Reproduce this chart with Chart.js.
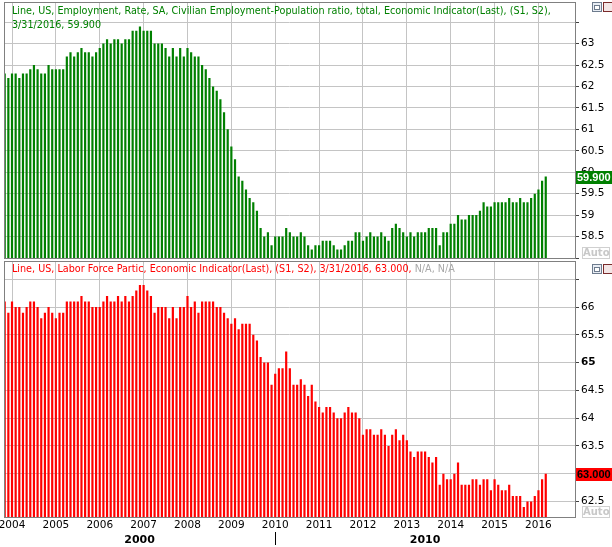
<!DOCTYPE html>
<html>
<head>
<meta charset="utf-8">
<script src="https://cdn.jsdelivr.net/npm/chart.js@4.4.1/dist/chart.umd.min.js"></script>
<style>
  body { margin: 0; background: #fff; width: 612px; height: 547px; overflow: hidden; position: relative; }
  #topWrap { position: absolute; left: 0; top: 0; width: 612px; height: 260px; }
  #botWrap { position: absolute; left: 0; top: 260px; width: 612px; height: 287px; }
  .ttl { position: absolute; left: 12px; font-family: "DejaVu Sans Condensed", "DejaVu Sans", sans-serif; font-size: 10.7px; line-height: 14px; white-space: nowrap; }
  .green { color: #008000; }
  .red { color: #ff0000; }
  .na { color: #a8a8a8; }
  .auto { position: absolute; left: 582px; width: 26px; height: 10px; border: 1px solid #d0d0d0; color: #c8c8c8;
          font: bold 10px "DejaVu Sans", sans-serif; line-height: 10px; text-align: center; background: #fff; }
  .ico1 { position: absolute; left: 592px; width: 8px; height: 8px; border: 1px solid #6d7b8d; background: #e8edf4; }
  .ico1 i { position: absolute; left: 1px; top: 2px; width: 4px; height: 3px; border: 1px solid #6d7b8d; background: #fff; }
  .ico2 { position: absolute; left: 603px; width: 10px; height: 8px; border: 1px solid #7a2b2b; background: #f3e6e6; }
</style>
</head>
<body>
<div id="topWrap"><canvas id="chartTop"></canvas></div>
<div id="botWrap"><canvas id="chartBot"></canvas></div>

<div class="ttl green" style="top:4px">Line, US, Employment, Rate, SA, Civilian Employment-Population ratio, total, Economic Indicator(Last), (S1, S2),</div>
<div class="ttl green" style="top:18px">3/31/2016, 59.900</div>
<div class="ttl" style="top:262px"><span class="red">Line, US, Labor Force Partic, Economic Indicator(Last), (S1, S2), 3/31/2016, 63.000, </span><span class="na">N/A, N/A</span></div>

<div class="ico1" style="top:2px"><i></i></div><div class="ico2" style="top:2px"></div>
<div class="ico1" style="top:264px"><i></i></div><div class="ico2" style="top:264px"></div>
<div class="auto" style="top:247px">Auto</div>
<div class="auto" style="top:506px">Auto</div>

<script>
// monthly series, Nov 2003 .. Mar 2016
var startYear = 2003, startMonth = 11;
var empRate = [
  62.3, 62.2,
  62.3, 62.3, 62.2, 62.3, 62.3, 62.4, 62.5, 62.4, 62.3, 62.3, 62.5, 62.4,
  62.4, 62.4, 62.4, 62.7, 62.8, 62.7, 62.8, 62.9, 62.8, 62.8, 62.7, 62.8,
  62.9, 63.0, 63.1, 63.0, 63.1, 63.1, 63.0, 63.1, 63.1, 63.3, 63.3, 63.4,
  63.3, 63.3, 63.3, 63.0, 63.0, 63.0, 62.9, 62.7, 62.9, 62.7, 62.9, 62.7,
  62.9, 62.8, 62.7, 62.7, 62.5, 62.4, 62.2, 62.0, 61.9, 61.7, 61.4, 61.0,
  60.6, 60.3, 59.9, 59.8, 59.6, 59.4, 59.3, 59.1, 58.7, 58.5, 58.6, 58.3,
  58.5, 58.5, 58.5, 58.7, 58.6, 58.5, 58.5, 58.6, 58.5, 58.3, 58.2, 58.3,
  58.3, 58.4, 58.4, 58.4, 58.3, 58.2, 58.2, 58.3, 58.4, 58.4, 58.6, 58.6,
  58.4, 58.5, 58.6, 58.5, 58.5, 58.6, 58.5, 58.4, 58.7, 58.8, 58.7, 58.6,
  58.5, 58.6, 58.5, 58.6, 58.6, 58.6, 58.7, 58.7, 58.7, 58.3, 58.6, 58.6,
  58.8, 58.8, 59.0, 58.9, 58.9, 59.0, 59.0, 59.0, 59.1, 59.3, 59.2, 59.2,
  59.3, 59.3, 59.3, 59.3, 59.4, 59.3, 59.3, 59.4, 59.3, 59.3, 59.4, 59.5,
  59.6, 59.8, 59.9
];
var partRate = [
  66.1, 65.9,
  66.1, 66.0, 66.0, 65.9, 66.0, 66.1, 66.1, 66.0, 65.8, 65.9, 66.0, 65.9,
  65.8, 65.9, 65.9, 66.1, 66.1, 66.1, 66.1, 66.2, 66.1, 66.1, 66.0, 66.0,
  66.0, 66.1, 66.2, 66.1, 66.1, 66.2, 66.1, 66.2, 66.1, 66.2, 66.3, 66.4,
  66.4, 66.3, 66.2, 65.9, 66.0, 66.0, 66.0, 65.8, 66.0, 65.8, 66.0, 66.0,
  66.2, 66.0, 66.1, 65.9, 66.1, 66.1, 66.1, 66.1, 66.0, 66.0, 65.9, 65.8,
  65.7, 65.8, 65.6, 65.7, 65.7, 65.7, 65.5, 65.4, 65.1, 65.0, 65.0, 64.6,
  64.8, 64.9, 64.9, 65.2, 64.9, 64.6, 64.6, 64.7, 64.6, 64.4, 64.6, 64.3,
  64.2, 64.1, 64.2, 64.2, 64.1, 64.0, 64.0, 64.1, 64.2, 64.1, 64.1, 64.0,
  63.7, 63.8, 63.8, 63.7, 63.7, 63.8, 63.7, 63.5, 63.7, 63.8, 63.6, 63.7,
  63.6, 63.4, 63.3, 63.4, 63.4, 63.4, 63.3, 63.2, 63.3, 62.8, 63.0, 62.9,
  62.9, 63.0, 63.2, 62.8, 62.8, 62.8, 62.9, 62.9, 62.8, 62.9, 62.9, 62.7,
  62.9, 62.8, 62.7, 62.7, 62.8, 62.6, 62.6, 62.6, 62.4, 62.5, 62.5, 62.6,
  62.7, 62.9, 63.0
];
var yearLabels = ['2004', '2005', '2006', '2007', '2008', '2009', '2010', '2011', '2012', '2013', '2014', '2015', '2016'];
var decadeLabels = ['2000', '2010'];
var topTickLabels = [58.5, 59, 59.5, 60, 60.5, 61, 61.5, 62, 62.5, 63];
var botTickLabels = [62.5, 63, 63.5, 64, 64.5, 65, 65.5, 66];

// x = months since Jan 2004
var firstX = (startYear - 2004) * 12 + (startMonth - 1);
function toPoints(arr) {
  return arr.map(function (v, i) { return { x: firstX + i, y: v }; });
}
var xMin = -2.19, xMax = 154.0;
var janTicks = yearLabels.map(function (y, i) { return i * 12; });
var decadeEdge = (2010 - 2004) * 12;

var gridColor = '#c4c4c4';
var frameColor = '#808080';
var FONT = '"DejaVu Sans", sans-serif';

function noPad(s) { s.paddingTop = 0; s.paddingBottom = 0; s.paddingLeft = 0; s.paddingRight = 0; }

var frame = {
  id: 'frame',
  afterDatasetsDraw: function (chart) {
    var a = chart.chartArea, ctx = chart.ctx;
    ctx.save();
    ctx.strokeStyle = frameColor;
    ctx.lineWidth = 1;
    ctx.strokeRect(a.left + 0.5, a.top + 0.5, a.right - a.left, a.bottom - a.top);
    ctx.restore();
  }
};

var lastBox = {
  id: 'lastBox',
  afterDraw: function (chart, args, opts) {
    var d = chart.data.datasets[0].data;
    var v = d[d.length - 1].y;
    var y = Math.round(chart.scales.y.getPixelForValue(v));
    var ctx = chart.ctx, x0 = chart.chartArea.right;
    ctx.save();
    ctx.fillStyle = opts.bg;
    ctx.fillRect(x0 + 1, y - 6, chart.width - x0 - 1, 13);
    ctx.fillStyle = opts.fg;
    ctx.font = 'bold 11px "Liberation Sans", sans-serif';
    ctx.textBaseline = 'middle';
    ctx.fillText(v.toFixed(3), x0 + 2, y + 1);
    ctx.restore();
  }
};

function yScale(min, max, labels) {
  return {
    position: 'right',
    min: min,
    max: max,
    afterFit: function (s) { s.width = 37; noPad(s); },
    grid: { color: gridColor, tickColor: '#404040', tickLength: 4 },
    border: { color: frameColor },
    ticks: {
      stepSize: 0.5,
      includeBounds: false,
      padding: 2,
      color: '#000',
      font: function (c) {
        return { family: FONT, size: 10.5, weight: c.tick && c.tick.value === 65 ? 'bold' : 'normal' };
      },
      callback: function (v) { return labels.indexOf(v) >= 0 ? String(v) : ''; }
    }
  };
}

function xGrid() {
  return {
    type: 'linear',
    offset: false,
    min: xMin,
    max: xMax,
    afterBuildTicks: function (axis) {
      axis.ticks = janTicks.map(function (v) { return { value: v }; });
    },
    grid: { color: gridColor, drawTicks: false, offset: false },
    border: { display: false }
  };
}

var topX = xGrid();
topX.ticks = { display: false };
topX.afterFit = function (s) { s.height = 0; noPad(s); };

new Chart(document.getElementById('chartTop'), {
  type: 'bar',
  data: {
    datasets: [{
      data: toPoints(empRate),
      backgroundColor: '#008000',
      barPercentage: 0.6,
      categoryPercentage: 1.0
    }]
  },
  options: {
    responsive: true,
    maintainAspectRatio: false,
    animation: false,
    layout: { padding: { left: 4, top: 2, bottom: 2, right: 0 } },
    plugins: { legend: { display: false }, tooltip: { enabled: false }, lastBox: { bg: '#008000', fg: '#ffffff' } },
    scales: { x: topX, y: yScale(58.0, 63.97, topTickLabels) }
  },
  plugins: [frame, lastBox]
});

var botX = xGrid();
botX.afterFit = function (s) { s.height = 15; noPad(s); };
botX.ticks = {
  autoSkip: false,
  maxRotation: 0,
  padding: 2,
  color: '#000',
  font: { family: FONT, size: 10.5 },
  callback: function (v) { return yearLabels[v / 12]; }
};

var decadeTicks = [(xMin + decadeEdge) / 2, decadeEdge, (decadeEdge + xMax) / 2];
var botX2 = {
  type: 'linear',
  position: 'bottom',
  offset: false,
  min: xMin,
  max: xMax,
  afterBuildTicks: function (axis) {
    axis.ticks = decadeTicks.map(function (v) { return { value: v }; });
  },
  afterFit: function (s) { s.height = 15; noPad(s); },
  grid: {
    drawOnChartArea: false,
    drawTicks: true,
    offset: false,
    tickLength: 13,
    tickColor: function (c) { return c.index === 1 ? '#000' : 'rgba(0,0,0,0)'; }
  },
  border: { display: false },
  ticks: {
    autoSkip: false,
    maxRotation: 0,
    padding: -11,
    color: '#000',
    font: { family: FONT, size: 11, weight: 'bold' },
    callback: function (v, i) { return i === 0 ? decadeLabels[0] : (i === 2 ? decadeLabels[1] : ''); }
  }
};

new Chart(document.getElementById('chartBot'), {
  type: 'bar',
  data: {
    datasets: [{
      data: toPoints(partRate),
      backgroundColor: '#ff0000',
      barPercentage: 0.6,
      categoryPercentage: 1.0
    }]
  },
  options: {
    responsive: true,
    maintainAspectRatio: false,
    animation: false,
    layout: { padding: { left: 4, top: 1, bottom: 0, right: 0 } },
    plugins: { legend: { display: false }, tooltip: { enabled: false }, lastBox: { bg: '#ff0000', fg: '#000000' } },
    scales: { x: botX, x2: botX2, y: yScale(62.22, 66.83, botTickLabels) }
  },
  plugins: [frame, lastBox]
});
</script>
</body>
</html>
